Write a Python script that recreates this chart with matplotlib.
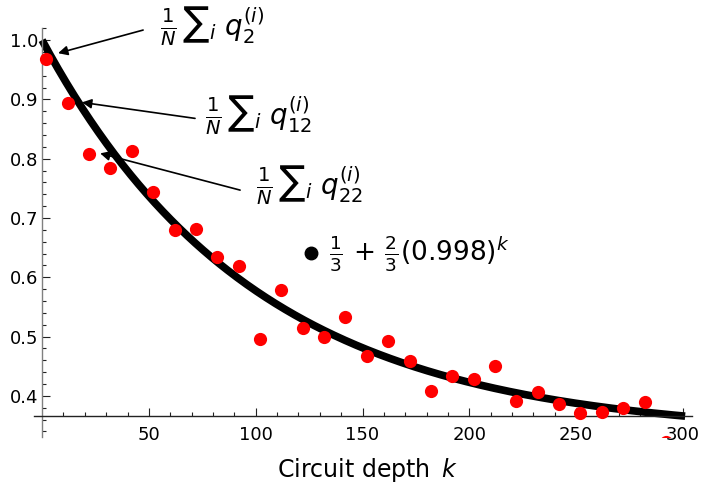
import matplotlib.pyplot as plt
import numpy as np
from matplotlib.lines import Line2D

# ---------------- data ----------------
depth = [2, 12, 22, 32, 42, 52, 62, 72, 82, 92, 102, 112, 122, 132, 142,
         152, 162, 172, 182, 192, 202, 212, 222, 232, 242, 252, 262, 272, 282, 292]
fidelity = [0.968, 0.894, 0.808, 0.784, 0.813, 0.744, 0.680, 0.681, 0.634, 0.619,
            0.496, 0.578, 0.514, 0.499, 0.533, 0.467, 0.492, 0.459, 0.408, 0.433,
            0.428, 0.450, 0.391, 0.406, 0.386, 0.371, 0.373, 0.379, 0.390, 0.322]

# model curve 1/3 + 2/3 r^k (rate as drawn in the figure)
rate = 0.99
kk = np.linspace(0, 301, 400)
model = 1/3 + 2/3*rate**kk

labels = [r"$\frac{1}{N}\,{\sum}_i\ q_2^{(i)}$",
          r"$\frac{1}{N}\,{\sum}_i\ q_{12}^{(i)}$",
          r"$\frac{1}{N}\,{\sum}_i\ q_{22}^{(i)}$"]

# ---------------- figure ----------------
fig = plt.figure(figsize=(7.01, 4.86), dpi=100)
ax = fig.add_axes([0.0478, 0.1002, 0.9387, 0.8416])

ax.plot(kk, model, color='black', lw=5.5, solid_capstyle='butt', zorder=2)
ax.plot(depth, fidelity, 'o', color='red', ms=9.5, mec='none', zorder=3)

ax.set_xlim(-4, 304)
ax.set_ylim(0.33, 1.02)

for s in ['top', 'right']:
    ax.spines[s].set_visible(False)
ax.spines['left'].set_position(('data', 0))
ax.spines['bottom'].set_position(('data', 0.366))
ax.spines['left'].set_color('#808080')
ax.spines['bottom'].set_color('#222222')
ax.spines['left'].set_linewidth(1)
ax.spines['bottom'].set_linewidth(1)

ax.set_xticks([50, 100, 150, 200, 250, 300])
ax.set_xticks(np.arange(10, 301, 10), minor=True)
ax.set_yticks([0.4, 0.5, 0.6, 0.7, 0.8, 0.9, 1.0])
ax.set_yticks(np.arange(0.34, 1.021, 0.02), minor=True)
ax.set_yticklabels(["0.4", "0.5", "0.6", "0.7", "0.8", "0.9", "1.0"])
ax.tick_params(axis='both', which='both', direction='in', labelsize=13, color='#222222', width=0.8)
ax.tick_params(axis='both', which='major', length=6)
ax.tick_params(axis='both', which='minor', length=3)
ax.tick_params(axis='y', pad=3)
ax.tick_params(axis='x', pad=7)

# annotations
tails = [(47.3, 1.017), (71.6, 0.868), (92.7, 0.747)]
heads = [(7.5, 0.978), (18.7, 0.895), (27.2, 0.809)]
text_pos = [(55.2, 1.024), (76.3, 0.874), (100.2, 0.756)]
for lab, t, h, p in zip(labels, tails, heads, text_pos):
    ax.annotate('', xy=h, xytext=t,
                arrowprops=dict(arrowstyle='-|>', color='black', lw=1.2,
                                mutation_scale=14, shrinkA=0, shrinkB=0))
    ax.text(p[0], p[1], lab, fontsize=20, ha='left', va='center', clip_on=False)

# legend
handle = Line2D([], [], marker='o', color='black', ls='none', ms=9)
ax.legend([handle], [r"$\frac{1}{3}\,+\,\frac{2}{3}(0.998)^k$"], loc='center left',
          bbox_to_anchor=(0.405, 0.448), frameon=False, fontsize=19,
          handlelength=0.8, handletextpad=0.3, borderpad=0, borderaxespad=0)

fig.text(367/701, 1 - 470/486, r"Circuit depth $\,k$", fontsize=17, ha='center', va='center')

fig.savefig('out.png', dpi=100)
